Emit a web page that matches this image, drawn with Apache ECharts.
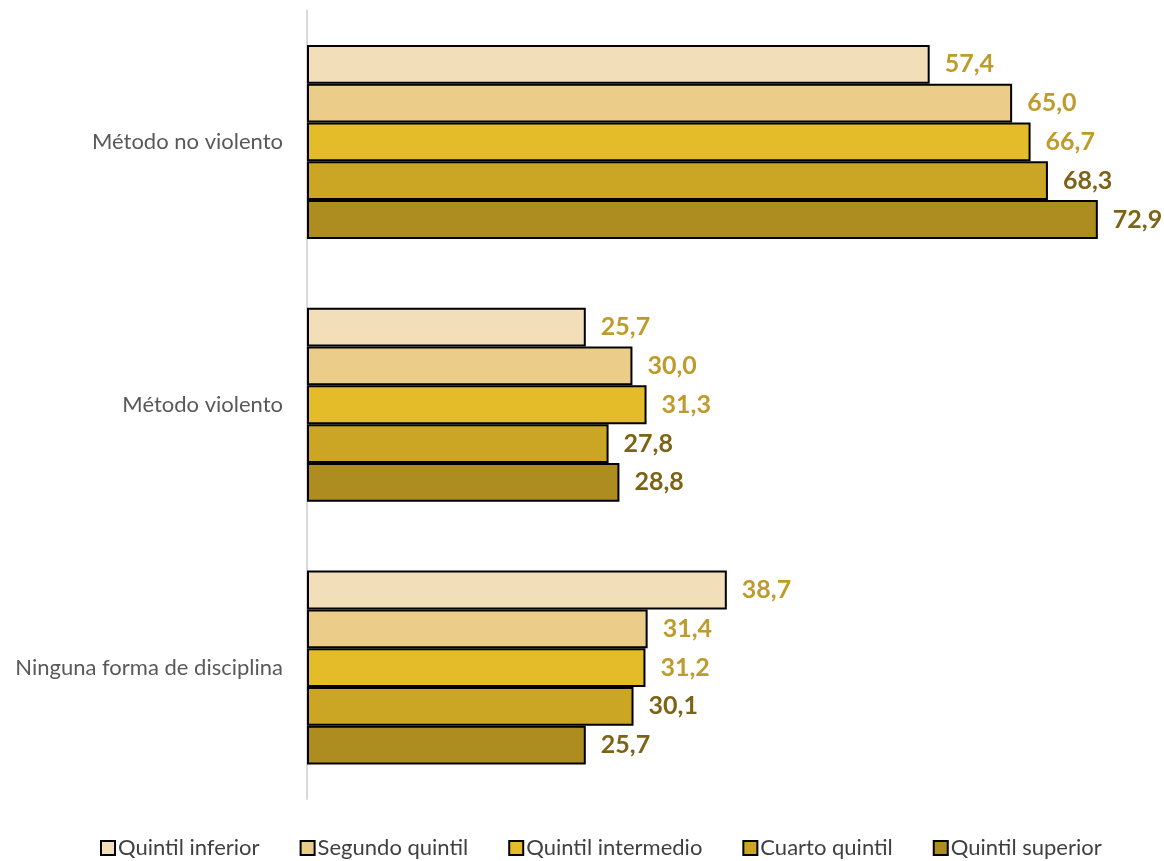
<!DOCTYPE html>
<html><head><meta charset="utf-8">
<script src="https://cdn.jsdelivr.net/npm/echarts@6/dist/echarts.min.js"></script>
<style>html,body{margin:0;padding:0;background:#fff}#c{width:1164px;height:861px}</style>
</head><body><div id="c"></div>
<script>
var categories = ['Método no violento', 'Método violento', 'Ninguna forma de disciplina'];
var seriesNames = ['Quintil inferior', 'Segundo quintil', 'Quintil intermedio', 'Cuarto quintil', 'Quintil superior'];
var quintilInferior = [57.4, 25.7, 38.7];
var segundoQuintil = [65.0, 30.0, 31.4];
var quintilIntermedio = [66.7, 31.3, 31.2];
var cuartoQuintil = [68.3, 27.8, 30.1];
var quintilSuperior = [72.9, 28.8, 25.7];
var values = [quintilInferior, segundoQuintil, quintilIntermedio, cuartoQuintil, quintilSuperior];
var colors = ['#F2DEB9', '#EBCD89', '#E4BB29', '#CBA524', '#AE8D20'];
var labelColors = ['#BF9B2B', '#BF9B2B', '#BF9B2B', '#7E6316', '#7E6316'];

var series = seriesNames.map(function (n, i) {
  return {
    name: n, type: 'bar', data: values[i],
    barGap: '0%', barCategoryGap: '26.2%',
    itemStyle: { color: colors[i], borderColor: '#000', borderWidth: 2 },
    label: {
      show: true, position: 'right', distance: 15,
      color: labelColors[i], fontFamily: 'Lato', fontWeight: 'bold', fontSize: 25,
      formatter: function (p) { return p.value.toFixed(1).replace('.', ','); }
    }
  };
});

var chart = echarts.init(document.getElementById('c'));
chart.setOption({
  animation: false,
  textStyle: { fontFamily: 'Lato' },
  grid: { left: 307, top: 10.5, right: 0, height: 788.5 },
  legend: {
    top: 837, left: 100, itemGap: 40, itemWidth: 14, itemHeight: 14, padding: 0,
    icon: 'rect',
    textStyle: { fontSize: 22, color: '#404040', fontFamily: 'Lato', padding: [0, 0, 0, -2] },
    data: seriesNames
  },
  xAxis: { type: 'value', min: 0, max: 79, show: false },
  yAxis: {
    type: 'category', data: categories, inverse: true,
    axisLine: { show: true, lineStyle: { color: '#D9D9D9', width: 2 } },
    axisTick: { show: false },
    axisLabel: { color: '#595959', fontSize: 22, margin: 24, fontFamily: 'Lato' }
  },
  series: series
});
</script></body></html>
